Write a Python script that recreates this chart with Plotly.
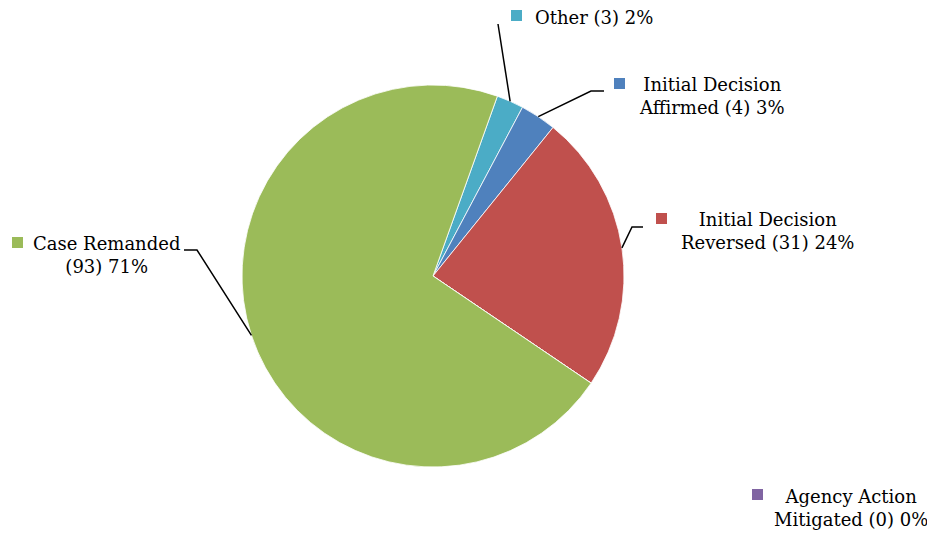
import math

import plotly.graph_objects as go

# slices in clockwise order, starting from the first one after 12 o'clock
labels = ["Other", "Initial Decision Affirmed", "Initial Decision Reversed",
          "Agency Action Mitigated", "Case Remanded"]
values = [3, 4, 31, 0, 93]
percents = ["2%", "3%", "24%", "0%", "71%"]
colors = ["#4BACC6", "#4F81BD", "#C0504D", "#8064A2", "#9BBB59"]
label_text = [
    "Other (3) 2%",
    "Initial Decision<br>Affirmed (4) 3%",
    "Initial Decision<br>Reversed (31) 24%",
    "Agency Action<br>Mitigated (0) 0%",
    "Case Remanded<br>(93) 71%",
]

# the page body has an 8px margin, so the plot is drawn 8px in from the corner
OFF = 8
W, H = 935 - OFF, 535 - OFF
CX, CY, R = 433, 276, 191
ROTATION = 19.7

# label placement (window pixels): text centre, key square top-left, leader elbow
label_pos = [(594, 17), (712, 96), (767, 231), (851, 508), (106, 255)]
key_pos = [(511, 10), (614, 78), (656, 213), (752, 489), (12, 237)]
elbows = [None, [(591, 91), (604, 91)], [(632, 227), (643, 227)], None,
          [(197, 250), (184, 250)]]
leader_start = [(498, 24), None, None, None, None]


def px(x, y):
    return (x - OFF) / W, 1 - (y - OFF) / H


d_x0, d_y1 = px(CX - R, CY - R)
d_x1, d_y0 = px(CX + R, CY + R)

fig = go.Figure(
    go.Pie(
        labels=labels,
        values=values,
        marker=dict(colors=colors, line=dict(color="white", width=0.8)),
        sort=False,
        direction="clockwise",
        rotation=ROTATION,
        textinfo="none",
        hoverinfo="label+value+percent",
        domain=dict(x=[d_x0, d_x1], y=[d_y0, d_y1]),
        showlegend=False,
    )
)

shapes = []
annotations = []
total = sum(values)
start = ROTATION
for i, v in enumerate(values):
    span = 360 * v / total
    mid = math.radians(start + span / 2)
    start += span
    edge = (CX + R * math.sin(mid), CY - R * math.cos(mid))

    tx, ty = label_pos[i]
    x, y = px(tx, ty)
    annotations.append(dict(
        x=x, y=y, xref="paper", yref="paper", text=label_text[i],
        showarrow=False, align="center", xanchor="center", yanchor="middle",
        font=dict(family="DejaVu Serif", size=18, color="#000000"),
    ))

    kx, ky = key_pos[i]
    x0, y1 = px(kx, ky)
    x1, y0 = px(kx + 11, ky + 11)
    shapes.append(dict(type="rect", xref="paper", yref="paper",
                       x0=x0, x1=x1, y0=y0, y1=y1,
                       fillcolor=colors[i], line=dict(width=0)))

    pts = None
    if elbows[i] is not None:
        pts = [edge] + elbows[i]
    elif leader_start[i] is not None:
        pts = [edge, leader_start[i]]
    if pts and v > 0:
        path = "M " + " L ".join(f"{px(a, b)[0]:.5f},{px(a, b)[1]:.5f}" for a, b in pts)
        shapes.append(dict(type="path", xref="paper", yref="paper", path=path,
                           line=dict(color="black", width=1.5)))

fig.update_layout(
    width=W,
    height=H,
    margin=dict(l=0, r=0, t=0, b=0),
    paper_bgcolor="white",
    plot_bgcolor="white",
    shapes=shapes,
    annotations=annotations,
)

fig.write_html("out.html")
